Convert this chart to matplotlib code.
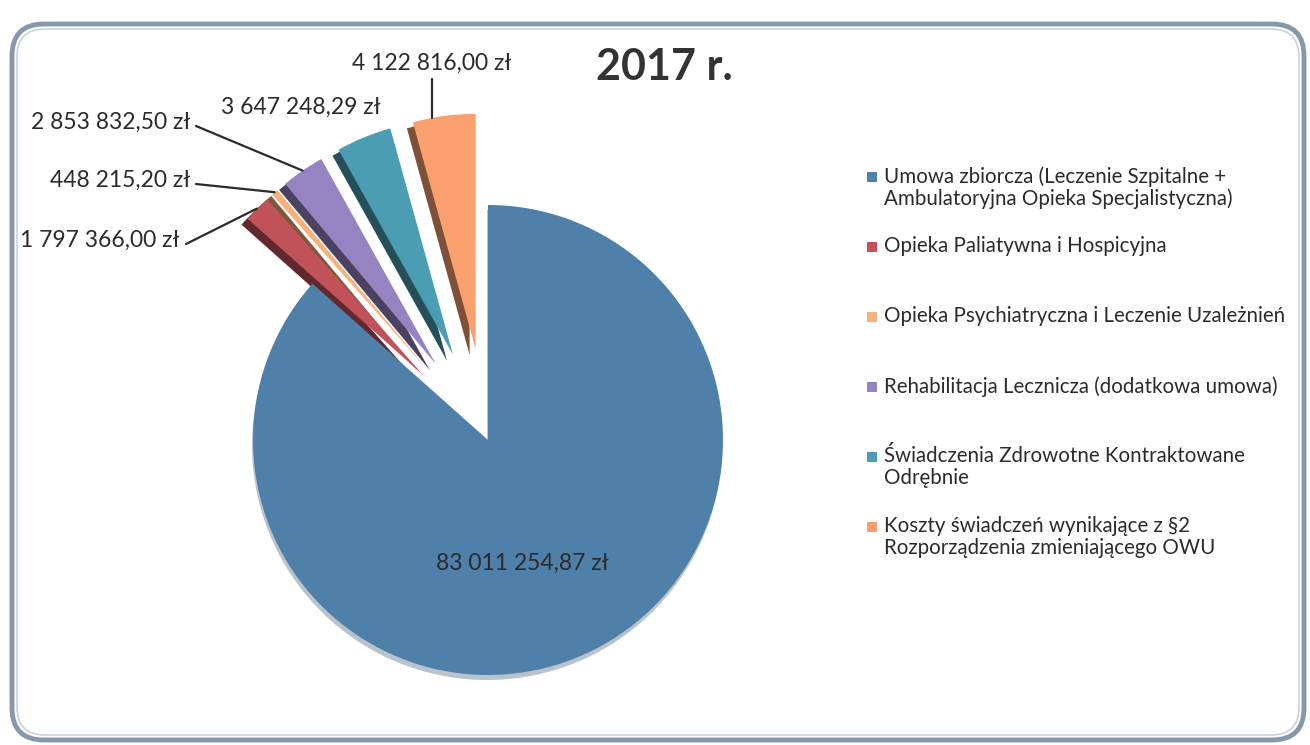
import numpy as np
import matplotlib
matplotlib.use('Agg')
import matplotlib.pyplot as plt
from matplotlib.patches import FancyBboxPatch, Rectangle
import matplotlib.colors as mcolors

plt.rcParams['font.family'] = ['Lato', 'DejaVu Sans']

# data
categories = [
    'Umowa zbiorcza (Leczenie Szpitalne +\nAmbulatoryjna Opieka Specjalistyczna)',
    'Opieka Paliatywna i Hospicyjna',
    'Opieka Psychiatryczna i Leczenie Uzależnień',
    'Rehabilitacja Lecznicza (dodatkowa umowa)',
    'Świadczenia Zdrowotne Kontraktowane\nOdrębnie',
    'Koszty świadczeń wynikające z §2\nRozporządzenia zmieniającego OWU',
]
values = [83011254.87, 1797366.00, 448215.20, 2853832.50, 3647248.29, 4122816.00]
value_labels = ['83 011 254,87 zł', '1 797 366,00 zł', '448 215,20 zł',
                '2 853 832,50 zł', '3 647 248,29 zł', '4 122 816,00 zł']
colors = ['#4f80aa', '#c2525a', '#f9b07a', '#9683c2', '#4a9db2', '#f9a06e']
title = '2017 r.'

W, H = 1310, 745
fig = plt.figure(figsize=(W / 100, H / 100), dpi=100)
ax = fig.add_axes([0, 0, 1, 1])
ax.set_xlim(0, W)
ax.set_ylim(0, H)
ax.set_aspect('equal')
ax.axis('off')

# frame
frame = FancyBboxPatch((12, 5), 1292, 716, boxstyle='round,pad=0,rounding_size=32',
                       fc='white', ec='#8798ad', lw=3.5, zorder=0)
ax.add_patch(frame)
frame2 = FancyBboxPatch((17, 10), 1282, 706, boxstyle='round,pad=0,rounding_size=28',
                        fc='none', ec='#c9d3de', lw=1.2, zorder=0)
ax.add_patch(frame2)

cx, cy, r = 488, 305, 235
# explode is in data units (pixels here)
explode = [0, 92, 92, 92, 92, 92]

# 3d-ish side faces: main slice only a thin rim below, small ones to the lower left
main_shadow = ['#b9c3cc'] + ['none'] * 5
ax.pie(values, colors=main_shadow, startangle=90, counterclock=False, explode=explode,
       center=(cx - 1, cy - 5), radius=r, wedgeprops=dict(lw=0, zorder=1))
dark = ['none'] + [tuple(np.array(mcolors.to_rgb(c)) * 0.5) for c in colors[1:]]
ax.pie(values, colors=dark, startangle=90, counterclock=False, explode=explode,
       center=(cx - 6, cy - 6), radius=r, wedgeprops=dict(lw=0, zorder=1))

wedges, _ = ax.pie(values, colors=colors, startangle=90, counterclock=False,
                   explode=explode, center=(cx, cy), radius=r,
                   wedgeprops=dict(lw=0, zorder=2))
ax.set_xlim(0, W)
ax.set_ylim(0, H)


def outer_point(w):
    mid = np.deg2rad((w.theta1 + w.theta2) / 2)
    x0, y0 = w.center
    return x0 + w.r * np.cos(mid), y0 + w.r * np.sin(mid)


txt = dict(fontsize=16.5, color='#2b2b2b')
line = dict(arrowstyle='-', color='#2b2b2b', lw=1.6, shrinkA=0, shrinkB=0)

ax.text(522, H - 563, value_labels[0], ha='center', va='center', **txt)

# small slices labels
label_pos = {1: (180, H - 240), 2: (190, H - 180), 3: (190, H - 122),
             4: (301, H - 107), 5: (432, H - 63)}
for i in range(1, 6):
    tx, ty = label_pos[i]
    if i in (1, 2, 3):
        ax.text(tx, ty, value_labels[i], ha='right', va='center', **txt)
        px, py = outer_point(wedges[i])
        ax.annotate('', xy=(px, py), xytext=(tx + 6, ty - 4), arrowprops=line)
    elif i == 4:
        ax.text(tx, ty, value_labels[i], ha='center', va='center', **txt)
    else:
        ax.text(tx, ty, value_labels[i], ha='center', va='center', **txt)
        px, py = outer_point(wedges[i])
        ax.annotate('', xy=(tx, py - 2), xytext=(tx, ty - 16), arrowprops=line)

ax.text(664, H - 67, title, ha='center', va='center', fontsize=31,
        fontweight='bold', color='#333333')

# legend
for i, (cat, c) in enumerate(zip(categories, colors)):
    y = H - 177 - i * 70
    ax.add_patch(Rectangle((867, y - 5), 10, 10, fc=c, ec='none'))
    ax.text(884, y + 11, cat, ha='left', va='top', fontsize=14.8,
            color='#2b2b2b', linespacing=1.12)

fig.savefig('out.png', dpi=100)
